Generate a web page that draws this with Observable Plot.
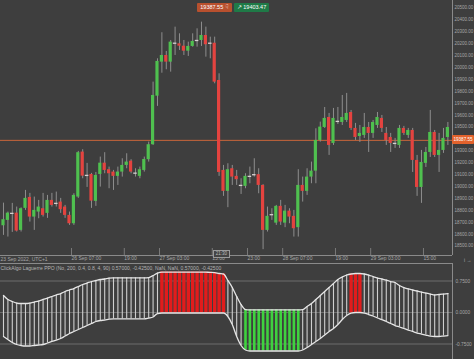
<!DOCTYPE html>
<html><head><meta charset="utf-8">
<script src="https://cdn.jsdelivr.net/npm/d3@7"></script>
<script src="https://cdn.jsdelivr.net/npm/@observablehq/plot@0.6"></script>
<style>
html,body{margin:0;padding:0;background:#3e3e3e;}
#wrap{position:relative;width:474px;height:359px;overflow:hidden;background:#3e3e3e;font-family:"Liberation Sans",Arial,sans-serif;}
#wrap svg{display:block;position:absolute;left:0;}
.tag{position:absolute;font-size:5.5px;color:#fff;line-height:9px;height:9px;border-radius:1px;white-space:nowrap;text-align:center;}
</style></head><body><div id="wrap"></div>
<script>
// ---- price candles (hourly) ----
const open = [18670,18715,18774,18776,18631,18816,18908,18743,18785,18813,
18774,18883,18858,18869,18827,18757,18687,18911,19289,19093,
19101,18875,19101,19196,19141,19121,19085,19121,19177,19213,
19112,19085,19135,19225,19351,19759,20045,20101,20045,20204,
20199,20179,20137,20177,20227,20227,20269,20204,20204,19891,
19135,18959,19149,19085,19009,19001,19085,19099,19099,19009,
18631,18763,18692,18833,18692,18793,18749,18654,19009,18959,
19079,19129,19387,19496,19580,19362,19547,19538,19555,19622,
19488,19420,19429,19496,19446,19513,19572,19446,19412,19362,
19345,19488,19429,19471,19219,18992,19194,19286,19454,19261,
19303,19412];
const close = [18721,18776,18774,18625,18813,18900,18743,18799,18827,18757,
18883,18841,18858,18805,18757,18687,18925,19284,19087,19093,
18877,19093,19196,19135,19107,19085,19121,19177,19205,19121,
19112,19141,19227,19351,19765,20051,20101,20045,20213,20204,
20179,20137,20177,20219,20227,20269,20191,20204,19877,19118,
18959,19141,19079,19057,19009,19085,19085,19099,19009,18631,
18749,18763,18833,18701,18793,18743,18645,19009,18959,19079,
19129,19387,19499,19572,19345,19572,19547,19580,19614,19488,
19412,19446,19496,19446,19538,19580,19488,19387,19362,19362,
19488,19446,19471,19219,18992,19202,19286,19454,19261,19303,
19404,19496];
const high = [18860,18785,18858,18827,18820,18967,18942,18911,18883,18942,
18925,18942,18953,18900,18841,18785,18939,19295,19309,19194,
19110,19118,19247,19284,19163,19135,19163,19233,19275,19225,
19149,19163,19247,19373,19877,20073,20292,20135,20227,20339,
20283,20227,20213,20283,20325,20381,20339,20255,20255,19947,
19177,19191,19177,19135,19065,19107,19163,19233,19149,19015,
18827,18813,18841,18883,18841,18813,18799,19141,19079,19149,
19205,19485,19541,19664,19614,19656,19664,19765,19782,19639,
19530,19513,19614,19538,19555,19622,19597,19496,19446,19404,
19513,19505,19488,19488,19261,19303,19328,19639,19471,19446,
19488,19538];
const low = [18589,18575,18614,18617,18617,18799,18701,18631,18729,18743,
18732,18827,18827,18774,18732,18673,18673,18900,19065,18992,
18816,18833,18995,19107,18981,18967,19009,19079,19149,19107,
19079,19065,19121,19205,19345,19673,19952,19981,19961,20101,
20143,20101,20093,20171,20171,20177,20087,20073,19863,19085,
18917,18822,19009,19009,18933,18981,19023,19079,18939,18469,
18617,18715,18673,18673,18654,18687,18575,18575,18869,18925,
19023,19023,19373,19488,19261,19345,19521,19513,19538,19471,
19387,19370,19404,19286,19404,19488,19454,19345,19286,19320,
19320,19429,19404,19118,18917,18858,19160,19244,19244,19118,
19278,19345];
const bidPrice = 19387.55;
const askPrice = 19403.47;
// 19400.00 is hidden behind the price tag in the reference
const priceTicks = [18500,18600,18700,18800,18900,19000,19100,19200,19300,19500,19600,19700,19800,19900,20000,20100,20200,20300,20400,20500];
const timeTickIndex = [15,27,35,47,55,63,75,83,95];
const timeTickLabels = ["26 Sep 07:00","19:00","27 Sep 03:00","15:00","23:00","28 Sep 07:00","19:00","29 Sep 03:00","15:00"];
const firstTimeLabel = "23 Sep 2022, UTC+1";

// ---- indicator (Laguerre PPO band) ----
const upper = [0.405,0.310,0.262,0.226,0.214,0.214,0.226,0.250,0.274,0.310,
0.345,0.381,0.417,0.452,0.500,0.536,0.571,0.619,0.667,0.702,
0.738,0.762,0.786,0.798,0.821,0.825,0.825,0.825,0.825,0.825,
0.825,0.825,0.825,0.833,0.881,0.940,0.964,0.964,0.964,0.964,
0.964,0.964,0.964,0.964,0.964,0.964,0.960,0.958,0.952,0.929,
0.917,0.762,0.595,0.381,0.190,0.071,0.064,0.064,0.064,0.064,
0.064,0.064,0.064,0.064,0.064,0.064,0.064,0.064,0.071,0.143,
0.214,0.310,0.405,0.500,0.595,0.690,0.786,0.845,0.893,0.917,
0.929,0.929,0.917,0.893,0.857,0.821,0.798,0.774,0.738,0.714,
0.643,0.595,0.560,0.536,0.512,0.488,0.464,0.440,0.417,0.429,
0.440,0.452];
const lower = [-0.571,-0.643,-0.714,-0.762,-0.786,-0.798,-0.798,-0.786,-0.774,-0.762,
-0.726,-0.690,-0.655,-0.619,-0.560,-0.500,-0.452,-0.405,-0.357,-0.310,
-0.262,-0.214,-0.190,-0.179,-0.160,-0.150,-0.150,-0.150,-0.150,-0.150,
-0.150,-0.150,-0.150,-0.131,-0.107,-0.024,-0.012,-0.012,-0.012,-0.012,
-0.012,-0.012,-0.012,-0.012,-0.012,-0.012,-0.012,-0.012,-0.012,-0.012,
-0.012,-0.095,-0.286,-0.571,-0.786,-0.893,-0.917,-0.917,-0.917,-0.917,
-0.917,-0.917,-0.917,-0.917,-0.917,-0.917,-0.917,-0.917,-0.893,-0.833,
-0.762,-0.690,-0.619,-0.536,-0.452,-0.381,-0.286,-0.167,-0.071,-0.012,
0.000,0.000,-0.012,-0.048,-0.083,-0.131,-0.167,-0.214,-0.262,-0.310,
-0.345,-0.381,-0.417,-0.452,-0.488,-0.512,-0.536,-0.560,-0.571,-0.571,
-0.560,-0.548];
const signal = ["n","n","n","n","n","n","n","n","n","n",
"n","n","n","n","n","n","n","n","n","n",
"n","n","n","n","n","n","n","n","n","n",
"n","n","n","n","n","n","r","r","r","r",
"r","r","r","r","r","r","r","r","r","r",
"r","n","n","n","n","g","g","g","g","g",
"g","g","g","g","g","g","g","g","n","n",
"n","n","n","n","n","n","n","n","n","r",
"r","r","n","n","n","n","n","n","n","n",
"n","n","n","n","n","n","n","n","n","n",
"n","n"];
const levelTicks = [0.75, 0, -0.75];
const indTitle = "ClickAlgo Laguerre PPO (No, 200, 0.4, 0.8, 4, 90) 0.57000, -0.42500, NaN, NaN, 0.57000, -0.42500";

const candles = open.map((o, i) => ({i, open: o, high: high[i], low: low[i], close: close[i]}));
const ind = upper.map((u, i) => ({i, upper: u, lower: lower[i], signal: signal[i]}));

const xDomain = [-0.68, 102.05];
const yDomain = [18420, 20563];
const yDomain2 = [-1.119, 1.167];
const font = "Liberation Sans, Arial, sans-serif";
const axisColor = "#a6a6a6";
const borderColor = "#8a8a8a";
const labelMap = new Map(timeTickIndex.map((d, k) => [d, timeTickLabels[k]]));

const p1 = Plot.plot({
  width: 474, height: 264,
  marginTop: 0, marginLeft: 0, marginRight: 22, marginBottom: 9,
  style: {background: "transparent", color: axisColor, fontFamily: font, fontSize: "5px"},
  x: {domain: xDomain},
  y: {domain: yDomain},
  marks: [
    Plot.ruleY([bidPrice], {stroke: "#c8653b", strokeWidth: 1}),
    Plot.ruleX(candles, {x: "i", y1: "low", y2: "high", stroke: "#8e8e8e", strokeWidth: 1}),
    Plot.rect(candles.filter(d => d.close > d.open), {x1: d => d.i - 0.36, x2: d => d.i + 0.36, y1: "open", y2: "close", fill: "#4fc04f"}),
    Plot.rect(candles.filter(d => d.close < d.open), {x1: d => d.i - 0.36, x2: d => d.i + 0.36, y1: "open", y2: "close", fill: "#e4433f"}),
    Plot.ruleY(candles.filter(d => d.close === d.open), {y: "open", x1: d => d.i - 0.4, x2: d => d.i + 0.4, stroke: "#d6d0d0", strokeWidth: 1.3}),
    Plot.ruleX([xDomain[1]], {stroke: borderColor}),
    Plot.ruleY([yDomain[0]], {stroke: borderColor}),
    Plot.axisY({anchor: "right", ticks: priceTicks, tickFormat: d => d.toFixed(2), tickSize: 0, tickPadding: 2, fontSize: 4.5, fill: axisColor}),
    Plot.axisX({anchor: "bottom", ticks: timeTickIndex, tickFormat: d => labelMap.get(d), tickSize: 7, tickPadding: 1, textAnchor: "start", dx: 2, dy: -7, fontSize: 5, fill: axisColor, stroke: "#7a7a7a"}),
    Plot.text([firstTimeLabel], {frameAnchor: "bottom-left", textAnchor: "start", lineAnchor: "top", dx: 0, dy: 1.5, fill: axisColor, fontSize: 5})
  ]
});
p1.style.top = "0px";

const p2 = Plot.plot({
  width: 474, height: 96,
  marginTop: 0, marginLeft: 0, marginRight: 22, marginBottom: 0,
  style: {background: "transparent", color: axisColor, fontFamily: font, fontSize: "5px"},
  x: {domain: xDomain, axis: null},
  y: {domain: yDomain2},
  marks: [
    Plot.ruleY(levelTicks, {stroke: "#6c6c6c"}),
    Plot.ruleX(ind.filter(d => d.signal === "n"), {x: "i", y1: "lower", y2: "upper", stroke: "#cfcfcf", strokeWidth: 1.1}),
    Plot.ruleX(ind.filter(d => d.signal === "r"), {x: "i", y1: "lower", y2: "upper", stroke: "#e21c1c", strokeWidth: 3.4}),
    Plot.ruleX(ind.filter(d => d.signal === "g"), {x: "i", y1: "lower", y2: "upper", stroke: "#3fd23f", strokeWidth: 2.6}),
    Plot.line(ind, {x: "i", y: "upper", stroke: "#e6e6e6", strokeWidth: 1.3, curve: "monotone-x"}),
    Plot.line(ind, {x: "i", y: "lower", stroke: "#e6e6e6", strokeWidth: 1.3, curve: "monotone-x"}),
    Plot.ruleX([xDomain[1]], {stroke: borderColor}),
    Plot.ruleY([yDomain2[1]], {stroke: borderColor}),
    Plot.axisY({anchor: "right", ticks: levelTicks, tickFormat: d => d.toFixed(4), tickSize: 0, tickPadding: 3, fontSize: 4.8, fill: axisColor}),
    Plot.text([indTitle], {frameAnchor: "top-left", textAnchor: "start", lineAnchor: "top", dx: 0, dy: 2.5, fill: "#b4b4b4", fontSize: 5})
  ]
});
p2.style.top = "263px";

const wrap = document.getElementById("wrap");
wrap.appendChild(p1);
wrap.appendChild(p2);

// price tag on right axis
const yb = p1.scale("y").apply(bidPrice);
const tagR = document.createElement("div");
tagR.className = "tag";
tagR.style.cssText = `left:452px;top:${yb - 5}px;width:22px;background:#e3622c;font-size:4.6px;`;
tagR.textContent = bidPrice.toFixed(2);
wrap.appendChild(tagR);

// bid / ask buttons at top
const tagBid = document.createElement("div");
tagBid.className = "tag";
tagBid.style.cssText = "left:197px;top:3px;width:35px;background:#b8502e;";
tagBid.textContent = bidPrice.toFixed(2) + " \u261F";
wrap.appendChild(tagBid);
const tagAsk = document.createElement("div");
tagAsk.className = "tag";
tagAsk.style.cssText = "left:234px;top:3px;width:35px;background:#1f7a47;";
tagAsk.textContent = "\u2197 " + askPrice.toFixed(2);
wrap.appendChild(tagAsk);

// small time marker box
const tm = document.createElement("div");
tm.style.cssText = "position:absolute;left:213px;top:250px;width:15px;height:6px;border:1px solid #9a9a9a;background:#444;color:#bbb;font-size:4.5px;line-height:6px;text-align:center;";
tm.textContent = "21:30";
wrap.appendChild(tm);
</script></body></html>
